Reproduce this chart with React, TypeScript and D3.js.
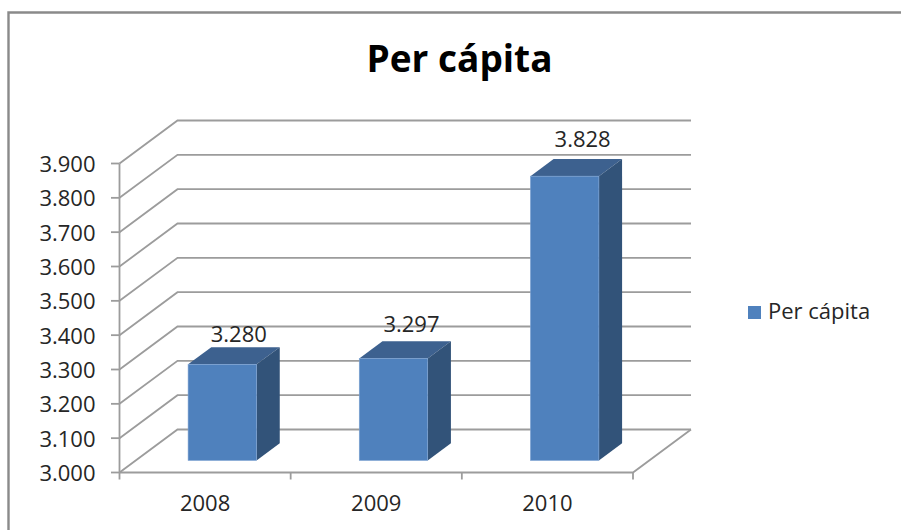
import * as d3 from "d3";

const years = ["2008", "2009", "2010"];
const perCapita = [3.28, 3.297, 3.828];
const valueLabels = ["3.280", "3.297", "3.828"];
const axisTicks = [3.0, 3.1, 3.2, 3.3, 3.4, 3.5, 3.6, 3.7, 3.8, 3.9];

const WIDTH = 901;
const HEIGHT = 530;
const FONT = "'Open Sans', 'DejaVu Sans', sans-serif";
const GRID = "#9c9c9c";
const TEXT = "#262626";

// fake 3D: every depth unit moves this far right and up
const depthX = 58;
const depthY = 43;
const barFrontDepth = 0.28;
const barDepth = 0.4;

// hand placed above each bar, the original chart does not space them evenly
const labelLift = [22, 26, 29];
const labelShift = [16.5, 18, 18];

export default function App() {
  const y = d3.scaleLinear().domain([3.0, 3.9]).range([472.5, 163.5]);
  const x = d3.scaleBand<string>().domain(years).range([119.5, 633]);
  const barWidth = x.bandwidth() * 0.4;
  const edges = years.map((yr) => x(yr)!).concat(633);
  const fmt = d3.format(".3f");

  const base = y(3.0);
  const shiftX = barFrontDepth * depthX + 1;
  const shiftY = barFrontDepth * depthY;
  const dx = barDepth * depthX;
  const dy = barDepth * depthY;
  const fmtPts = (pts: [number, number][]) => pts.map((p) => p.join(",")).join(" ");

  return (
    <svg
      width={WIDTH}
      height={HEIGHT}
      style={{ position: "absolute", left: 0, top: 0, background: "#fff" }}
    >
      <path d={`M8.5,${HEIGHT} V12.5 H${WIDTH}`} fill="none" stroke="#8a8a8a" strokeWidth={2.4} />

      <text x={459.5} y={72} textAnchor="middle" fontFamily={FONT} fontSize={37} fontWeight={700} fill="#000">
        Per cápita
      </text>

      {/* walls and gridlines */}
      {axisTicks.map((t) => (
        <polyline
          key={t}
          points={fmtPts([
            [119.5, y(t)],
            [119.5 + depthX, y(t) - depthY],
            [633 + depthX, y(t) - depthY],
          ])}
          fill="none"
          stroke={GRID}
          strokeWidth={1.8}
        />
      ))}
      <polyline
        points={fmtPts([
          [119.5, base],
          [633, base],
          [633 + depthX, base - depthY],
        ])}
        fill="none"
        stroke={GRID}
        strokeWidth={1.8}
      />

      {/* axes */}
      <line x1={119.5} x2={119.5} y1={y(3.9)} y2={base + 7} stroke={GRID} strokeWidth={1.8} />
      {axisTicks.map((t) => (
        <g key={t}>
          <line x1={111} x2={119.5} y1={y(t)} y2={y(t)} stroke={GRID} strokeWidth={1.8} />
          <text x={95.5} y={y(t) + 8.5} textAnchor="end" fontFamily={FONT} fontSize={22} fill={TEXT}>
            {fmt(t)}
          </text>
        </g>
      ))}
      {edges.slice(1).map((e) => (
        <line key={e} x1={e} x2={e} y1={base} y2={base + 7} stroke={GRID} strokeWidth={1.8} />
      ))}
      {years.map((yr) => (
        <text
          key={yr}
          x={x(yr)! + x.bandwidth() / 2}
          y={511}
          textAnchor="middle"
          fontFamily={FONT}
          fontSize={22}
          fill={TEXT}
        >
          {yr}
        </text>
      ))}

      {/* bars */}
      {years.map((yr, i) => {
        const left = x(yr)! + (x.bandwidth() - barWidth) / 2 + shiftX;
        const right = left + barWidth;
        const bottom = base - shiftY;
        const top = y(perCapita[i]) - shiftY;
        return (
          <g key={yr}>
            <polygon
              points={fmtPts([
                [left, top],
                [left + dx, top - dy],
                [right + dx, top - dy],
                [right, top],
              ])}
              fill="#3d618f"
            />
            <polygon
              points={fmtPts([
                [right, top],
                [right + dx, top - dy],
                [right + dx, bottom - dy],
                [right, bottom],
              ])}
              fill="#325379"
            />
            <rect x={left} y={top} width={barWidth} height={bottom - top} fill="#4f81bd" stroke="#7ea3d2" strokeWidth={0.6} />
            <text
              x={(left + right) / 2 + labelShift[i]}
              y={top - labelLift[i]}
              textAnchor="middle"
              fontFamily={FONT}
              fontSize={22}
              fill={TEXT}
            >
              {valueLabels[i]}
            </text>
          </g>
        );
      })}

      {/* legend */}
      <rect x={748} y={306} width={13} height={13} fill="#4f81bd" />
      <text x={768} y={319} fontFamily={FONT} fontSize={22} fill={TEXT}>
        Per cápita
      </text>
    </svg>
  );
}
